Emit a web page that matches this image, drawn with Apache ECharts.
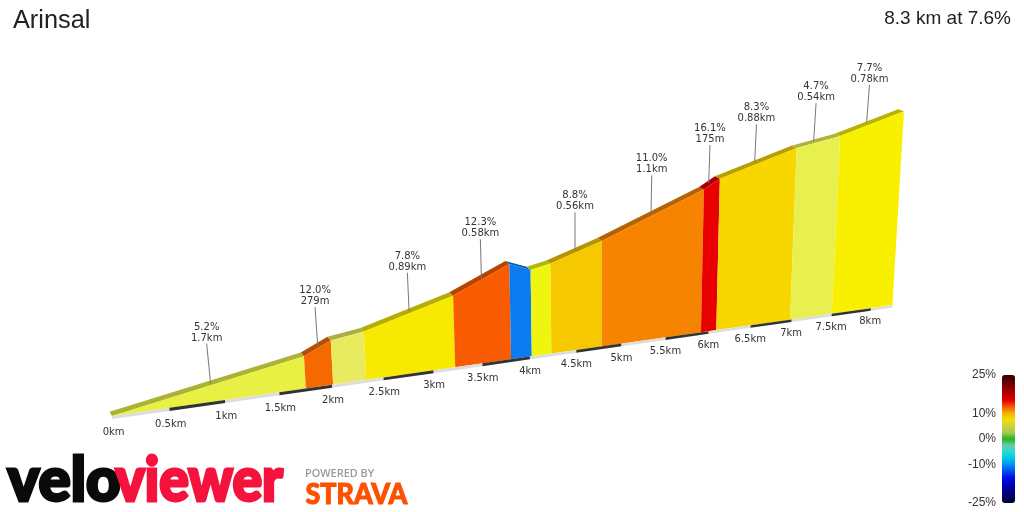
<!DOCTYPE html>
<html>
<head>
<meta charset="utf-8">
<style>html,body{margin:0;padding:0;background:#fff}#main{width:1024px;height:512px}</style>
<script src="https://cdn.jsdelivr.net/npm/echarts@6/dist/echarts.min.js"></script>
</head>
<body>
<div id="main"></div>
<script>
// segment boundaries along the climb
const boundaryKm = [0, 1.75, 2.01, 2.33, 3.22, 3.8, 4.02, 4.23, 4.78, 5.91, 6.09, 6.98, 7.5, 8.28]
const boundaryElev = [0, 88, 121, 134, 203, 274, 250, 262, 311, 433, 461, 534, 560, 622]
const segmentColors = ['#e8f044', '#f56a00', '#e8ea60', '#f7ea00', '#f95c00', '#0a7cf0', '#f0f510', '#f5c800', '#f68400', '#e80000', '#f8d600', '#e8f050', '#f8f000']

// callouts: which segment, gradient, length
const calloutSegments = [0, 1, 3, 4, 7, 8, 9, 10, 11, 12]
const calloutGrades = ['5.2%', '12.0%', '7.8%', '12.3%', '8.8%', '11.0%', '16.1%', '8.3%', '4.7%', '7.7%']
const calloutLengths = ['1.7km', '279m', '0.89km', '0.58km', '0.56km', '1.1km', '175m', '0.88km', '0.54km', '0.78km']

// road markings
const kmTicks = [0, 0.5, 1, 1.5, 2, 2.5, 3, 3.5, 4, 4.5, 5, 5.5, 6, 6.5, 7, 7.5, 8]
const roadEndKm = 8.28

// colour scale
const scaleTicks = [-25, -10, 0, 10, 25]
const scaleColors = ['#000030', '#000060', '#000090', '#0000c0', '#0010e8', '#0050f0', '#0090f0', '#00c8e8', '#20dcd8', '#70c8a8', '#20b820', '#a8c850', '#d0d040', '#f0e000', '#f8b000', '#f06000', '#e80000', '#b80000', '#900000', '#600000', '#300000']

const PERSP = 0.0282 // shrink with distance
const BASE_RISE = 42.96 // the road base climbs on screen
const LEAN_U = 4.2
const LEAN = 7.8e-5 // uprights fan out from here
const textFont = '"DejaVu Sans", sans-serif'

function project(api, km, m) {
  const d = 1 + PERSP * km
  const u = km / d
  const v = m / d
  return api.coord([u + (u - LEAN_U) * v * LEAN, v + BASE_RISE * u])
}

// back edge of the road surface
function back(p, km) {
  return [p[0] - 2.5 - 0.4 * km, p[1] - 4.2 + 0.27 * km]
}

function darken(color, f) {
  const c = echarts.color.parse(color)
  return 'rgb(' + Math.round(c[0] * f) + ',' + Math.round(c[1] * f) + ',' + Math.round(c[2] * f) + ')'
}

function renderSegment(params, api) {
  const k0 = api.value(0), k1 = api.value(1)
  const a = project(api, k0, api.value(2))
  const b = project(api, k1, api.value(3))
  const c = project(api, k1, 0)
  const d = project(api, k0, 0)
  const color = segmentColors[params.dataIndex]
  return {
    type: 'group',
    children: [
      { type: 'polygon', shape: { points: [a, b, back(b, k1), back(a, k0)] }, style: { fill: darken(color, 0.74) } },
      { type: 'polygon', shape: { points: [a, b, c, d] }, style: { fill: color } }
    ]
  }
}

function renderRoad(params, api) {
  const k0 = api.value(0), k1 = api.value(1)
  return {
    type: 'polygon',
    shape: { points: [project(api, k0, 0), project(api, k1, 0), project(api, k1, -8), project(api, k0, -8)] },
    style: { fill: api.value(2) ? '#333333' : '#dddddd' }
  }
}

function renderTick(params, api) {
  const km = api.value(0)
  const p = project(api, km, -43)
  return {
    type: 'text',
    style: { x: p[0], y: p[1], text: km + 'km', fill: '#333', font: '10px ' + textFont, textAlign: 'center', textVerticalAlign: 'middle' }
  }
}

function renderCallout(params, api) {
  const km = api.value(0), m = api.value(1)
  const foot = project(api, km, m)
  const start = back(foot, km)
  // further up the road the leader sits a little left of the fan
  const nudge = 1.1 * Math.max(0, km - 3.5)
  const from = [(foot[0] + start[0]) / 2 + 2 - nudge, (foot[1] + start[1]) / 2]
  const head = project(api, km, m + 110 * (1 + 0.5 * PERSP * km))
  head[0] -= nudge
  const i = params.dataIndex
  return {
    type: 'group',
    children: [
      { type: 'line', shape: { x1: head[0], y1: head[1], x2: from[0], y2: from[1] }, style: { stroke: '#777', lineWidth: 1 } },
      { type: 'text', style: { x: head[0], y: head[1] - 16.5, text: calloutGrades[i], fill: '#333', font: '10px ' + textFont, textAlign: 'center', textVerticalAlign: 'middle' } },
      { type: 'text', style: { x: head[0], y: head[1] - 5.5, text: calloutLengths[i], fill: '#333', font: '10px ' + textFont, textAlign: 'center', textVerticalAlign: 'middle' } }
    ]
  }
}

const segmentData = segmentColors.map((c, i) => [boundaryKm[i], boundaryKm[i + 1], boundaryElev[i], boundaryElev[i + 1]])
const roadData = kmTicks.map((km, i) => [km, i + 1 < kmTicks.length ? kmTicks[i + 1] : roadEndKm, i % 2])
const calloutData = calloutSegments.map(s => [(boundaryKm[s] + boundaryKm[s + 1]) / 2, (boundaryElev[s] + boundaryElev[s + 1]) / 2])

const chart = echarts.init(document.getElementById('main'))
chart.setOption({
  animation: false,
  backgroundColor: '#fff',
  title: [
    { text: 'Arinsal', left: 13, top: 9, padding: 0, textStyle: { fontFamily: '"Liberation Sans"', fontSize: 25.3, fontWeight: 'normal', color: '#222' } },
    { text: '8.3 km at 7.6%', right: 13, top: 9, padding: 0, textStyle: { fontFamily: '"Liberation Sans"', fontSize: 19, fontWeight: 'normal', color: '#222' } }
  ],
  grid: [
    { left: 112, top: 16, width: 872, height: 400 },
    { left: 1002, top: 375, width: 13, height: 128 }
  ],
  xAxis: [
    { type: 'value', min: 0, max: 7.5, show: false },
    { type: 'value', gridIndex: 1, min: 0, max: 1, show: false }
  ],
  yAxis: [
    { type: 'value', min: 0, max: 1040, show: false },
    {
      type: 'value', gridIndex: 1, min: -25, max: 25,
      splitLine: { show: false }, axisLine: { show: false }, axisTick: { show: false },
      axisLabel: { customValues: scaleTicks, formatter: '{value}%', margin: 6, color: '#333', fontSize: 12, fontFamily: '"Liberation Sans"' }
    }
  ],
  visualMap: {
    type: 'continuous', min: -25, max: 25, seriesIndex: 4, left: 1002, top: 375, padding: 0,
    itemWidth: 13, itemHeight: 128, calculable: false, hoverLink: false, text: null, showLabel: false,
    inRange: { color: scaleColors }
  },
  series: [
    { type: 'custom', silent: true, renderItem: renderSegment, data: segmentData, clip: false },
    { type: 'custom', silent: true, renderItem: renderRoad, data: roadData, clip: false },
    { type: 'custom', silent: true, renderItem: renderTick, data: kmTicks.map(km => [km]), clip: false },
    { type: 'custom', silent: true, renderItem: renderCallout, data: calloutData, clip: false },
    { type: 'line', xAxisIndex: 1, yAxisIndex: 1, data: [] }
  ],
  graphic: [
    { type: 'text', left: 6, top: 450, style: { text: 'velo', fill: '#0a0a0a', stroke: '#0a0a0a', lineWidth: 3, font: '900 60px Lato, sans-serif' } },
    { type: 'text', left: 114, top: 450, scaleX: 0.92, style: { text: 'viewer', fill: '#f5123d', stroke: '#f5123d', lineWidth: 3, font: '900 60px Lato, sans-serif' } },
    { type: 'text', left: 305, top: 469, scaleX: 1.09, style: { text: 'POWERED BY', fill: '#999999', font: '600 10px "Open Sans", sans-serif' } },
    { type: 'text', left: 305, top: 480, scaleX: 0.96, style: { text: 'STRAVA', fill: '#fc5200', stroke: '#fc5200', lineWidth: 1, font: '900 28px Lato, sans-serif' } }
  ]
})
</script>
</body>
</html>
